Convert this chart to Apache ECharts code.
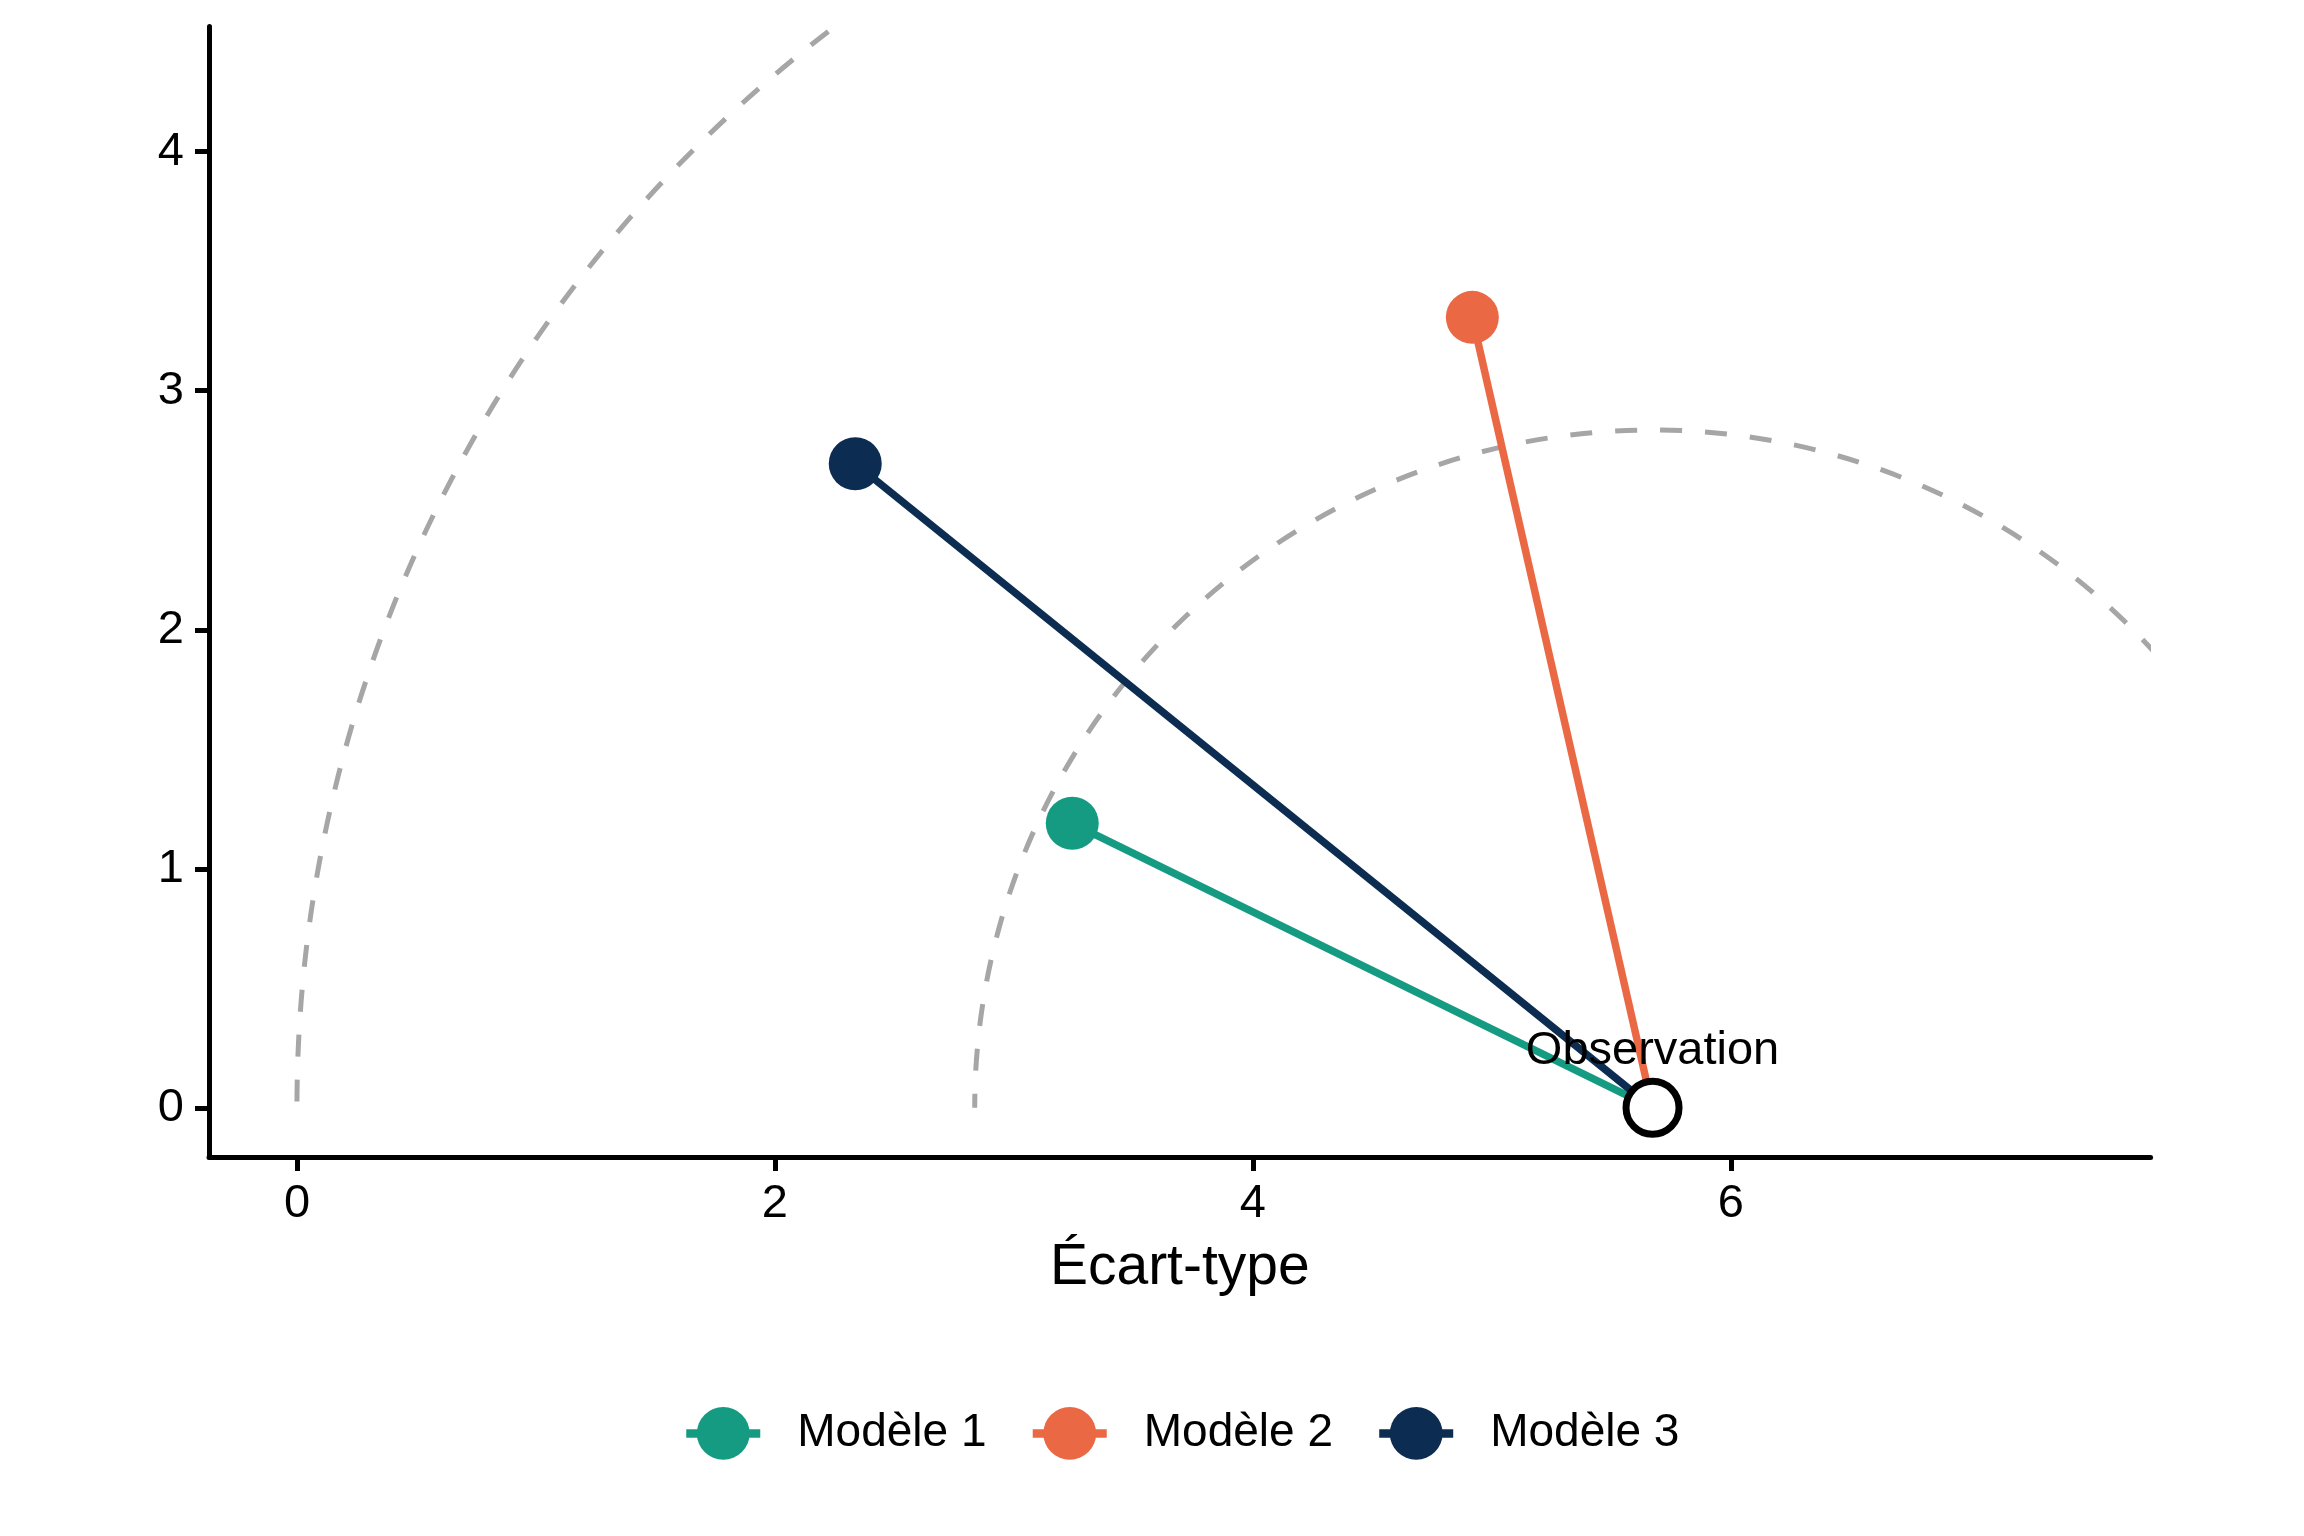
<!DOCTYPE html>
<html>
<head>
<meta charset="utf-8">
<script src="https://cdn.jsdelivr.net/npm/echarts@6/dist/echarts.min.js"></script>
<style>
html,body{margin:0;padding:0;background:#fff;}
#chart{width:2304px;height:1536px;}
</style>
</head>
<body>
<div id="chart"></div>
<script>
// ---- data ----
const modelNames = ['Modèle 1', 'Modèle 2', 'Modèle 3'];
const modelX = [3.244, 4.918, 2.336];
const modelY = [1.190, 3.307, 2.695];
const modelColors = ['#169B83', '#EA6844', '#0C2D51'];
const obsX = 5.672;
const obsY = 0;
const obsLabel = 'Observation';
const arcRadii = [5.672, 2.836];
const xTicks = [0, 2, 4, 6];
const yTicks = [0, 1, 2, 3, 4];
const xTitle = 'Écart-type';

const FONT = '"Liberation Sans", Arial, Helvetica, sans-serif';

const chart = echarts.init(document.getElementById('chart'), null, {renderer: 'canvas', devicePixelRatio: 1});

const series = [];

// dashed RMS arcs centred on the observation
series.push({
  type: 'custom',
  name: 'arcs',
  clip: true,
  z: 1,
  silent: true,
  data: arcRadii.map(r => [obsX, obsY, r]),
  renderItem: function (params, api) {
    const c = api.coord([api.value(0), api.value(1)]);
    const rp = api.size([api.value(2), 0])[0];
    return {
      type: 'arc',
      shape: {cx: c[0], cy: c[1], r: rp, startAngle: 0, endAngle: -Math.PI, clockwise: false},
      style: {fill: null, stroke: '#A6A6A6', lineWidth: 5, lineDash: [22, 23]}
    };
  }
});

modelNames.forEach((name, i) => {
  series.push({
    type: 'line',
    name: name,
    z: 2,
    symbol: 'circle',
    symbolSize: 53,
    color: modelColors[i],
    itemStyle: {color: modelColors[i], borderWidth: 0, opacity: 1},
    lineStyle: {color: modelColors[i], width: 7.5},
    emphasis: {disabled: true},
    animation: false,
    data: [
      {value: [modelX[i], modelY[i]]},
      {value: [obsX, obsY], symbol: 'none'}
    ]
  });
});

series.push({
  type: 'scatter',
  name: 'obs',
  z: 5,
  symbol: 'circle',
  symbolSize: 53,
  itemStyle: {color: '#ffffff', borderColor: '#000000', borderWidth: 7, opacity: 1},
  label: {
    show: true,
    position: 'top',
    distance: 3,
    formatter: obsLabel,
    color: '#000',
    opacity: 1,
    fontSize: 47,
    fontFamily: FONT
  },
  emphasis: {disabled: true},
  data: [[obsX, obsY]]
});

const option = {
  backgroundColor: '#ffffff',
  animation: false,
  textStyle: {fontFamily: FONT},
  grid: {left: 209, right: 153.4, top: 26.5, bottom: 379},
  xAxis: {
    type: 'value',
    min: -0.368,
    max: 7.756,
    name: xTitle,
    nameLocation: 'middle',
    nameGap: 111,
    nameTextStyle: {fontSize: 57, color: '#000', fontFamily: FONT, verticalAlign: 'middle'},
    axisLine: {show: true, onZero: false, lineStyle: {color: '#000', width: 5}},
    axisTick: {show: true, length: 14, lineStyle: {color: '#000', width: 5}, customValues: xTicks},
    axisLabel: {show: true, margin: 24, fontSize: 47, color: '#000', fontFamily: FONT, customValues: xTicks, formatter: v => String(v)},
    splitLine: {show: false}
  },
  yAxis: {
    type: 'value',
    min: -0.206,
    max: 4.524,
    axisLine: {show: true, onZero: false, lineStyle: {color: '#000', width: 5}},
    axisTick: {show: true, length: 14, lineStyle: {color: '#000', width: 5}, customValues: yTicks},
    axisLabel: {show: true, margin: 25, fontSize: 47, color: '#000', fontFamily: FONT, customValues: yTicks, formatter: v => String(v)},
    splitLine: {show: false}
  },
  legend: {
    data: modelNames,
    left: 682,
    top: 1407,
    padding: 0,
    orient: 'horizontal',
    itemWidth: 74,
    itemHeight: 66,
    itemGap: 42,
    lineStyle: {width: 8.5},
    textStyle: {fontSize: 46, color: '#000', fontFamily: FONT, padding: [0, 0, 0, 32]},
    selectedMode: false
  },
  series: series
};

chart.setOption(option);
</script>
</body>
</html>
